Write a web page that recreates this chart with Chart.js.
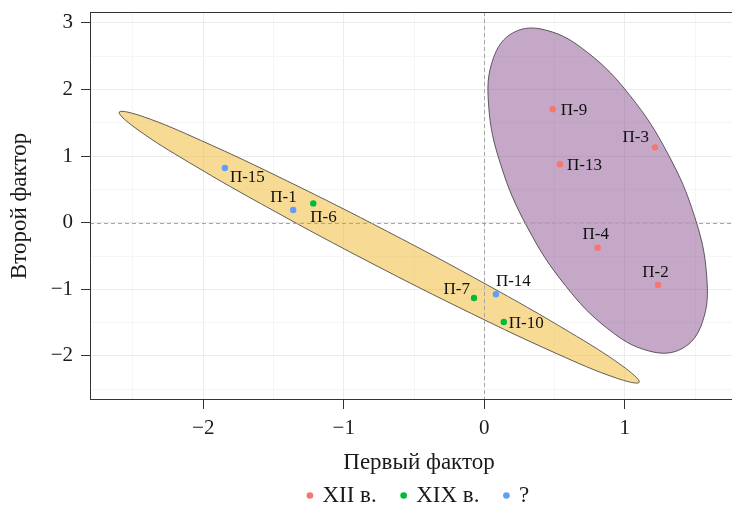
<!DOCTYPE html>
<html><head><meta charset="utf-8">
<style>html,body{margin:0;padding:0;overflow:hidden;background:#fff}canvas{display:block}</style>
<script src="https://cdn.jsdelivr.net/npm/chart.js@4.4.1/dist/chart.umd.min.js"></script>
</head><body>
<canvas id="c" width="760" height="505"></canvas>
<script>
// ---------- data ----------
const seriesNames = ['XII в.', 'XIX в.', '?'];
const xiiLabels = ['П-9', 'П-3', 'П-13', 'П-4', 'П-2'];
const xiiX = [0.487, 1.215, 0.539, 0.807, 1.236];
const xiiY = [1.703, 1.132, 0.877, -0.375, -0.935];
const xixLabels = ['П-6', 'П-7', 'П-10'];
const xixX = [-1.217, -0.073, 0.139];
const xixY = [0.290, -1.131, -1.491];
const qLabels = ['П-15', 'П-1', 'П-14'];
const qX = [-1.846, -1.360, 0.083];
const qY = [0.821, 0.191, -1.075];

// ellipse outlines
const yellowEllipseX = [1.103, 0.940, 0.520, -0.093, -0.806, -1.509, -2.097, -2.479, -2.598, -2.435, -2.014, -1.402, -0.689, 0.014, 0.602, 0.984];
const yellowEllipseY = [-2.396, -2.333, -1.970, -1.362, -0.604, 0.191, 0.900, 1.416, 1.661, 1.598, 1.233, 0.626, -0.132, -0.926, -1.636, -2.152];
const purpleEllipseX = [1.406, 1.170, 0.879, 0.577, 0.309, 0.117, 0.031, 0.063, 0.208, 0.444, 0.735, 1.038, 1.305, 1.497, 1.583, 1.552];
const purpleEllipseY = [-1.892, -1.925, -1.592, -0.943, -0.078, 0.872, 1.764, 2.461, 2.856, 2.889, 2.556, 1.907, 1.042, 0.092, -0.800, -1.497];

const xMajorTicks = [-2, -1, 0, 1];
const xMinorTicks = [-2.5, -1.5, -0.5, 0.5, 1.5];
const yMajorTicks = [-2, -1, 0, 1, 2, 3];
const yMinorTicks = [-2.5, -1.5, -0.5, 0.5, 1.5, 2.5];
const xRange = [-2.806, 1.877];
const yRange = [-2.662, 3.164];
const xTitle = 'Первый фактор';
const yTitle = 'Второй фактор';

// ---------- styles ----------
const seriesColors = ['#F8766D', '#00BA38', '#619CFF'];
const pointLabelStyle = {
  'П-9':  {align: 'left',   dx: 8,    dy: 1},
  'П-3':  {align: 'right',  dx: -6,   dy: -10},
  'П-13': {align: 'left',   dx: 7,    dy: 1},
  'П-4':  {align: 'center', dx: -2,   dy: -13},
  'П-2':  {align: 'center', dx: -2.5, dy: -12.5},
  'П-14': {align: 'left',   dx: 0,    dy: -13},
  'П-10': {align: 'left',   dx: 5,    dy: 2},
  'П-7':  {align: 'right',  dx: -4,   dy: -9},
  'П-15': {align: 'left',   dx: 5,    dy: 9},
  'П-1':  {align: 'right',  dx: 3.5,  dy: -12.5},
  'П-6':  {align: 'left',   dx: -3,   dy: 14}
};
const FONT = "'Liberation Serif', 'Times New Roman', serif";
const TEXT = '#1a1a1a';

const toPts = (xs, ys) => xs.map((x, i) => ({x: x, y: ys[i]}));
const seriesLabels = [xiiLabels, xixLabels, qLabels];

Chart.defaults.font.family = FONT;
Chart.defaults.color = TEXT;

const closeLoop = {
  id: 'closeLoop',
  afterDatasetUpdate(chart, args) {
    const ds = chart.data.datasets[args.index];
    if (!ds.closedShape) return;
    const line = args.meta.dataset;
    if (!line) return;
    line._loop = true; line._fullLoop = true;
    line._pointsUpdated = false;
    delete line._segments; delete line._path;
  }
};

const decor = {
  id: 'decor',
  afterDatasetsDraw(chart) {
    const {ctx, chartArea: a, scales: {x, y}} = chart;
    ctx.save();
    // zero reference lines
    ctx.strokeStyle = '#a6a6a6';
    ctx.lineWidth = 1;
    ctx.setLineDash([4, 3]);
    const x0 = Math.round(x.getPixelForValue(0)) + 0.5;
    const y0 = Math.round(y.getPixelForValue(0)) + 0.5;
    ctx.beginPath();
    ctx.moveTo(x0, a.top); ctx.lineTo(x0, a.bottom);
    ctx.moveTo(a.left, y0); ctx.lineTo(a.right, y0);
    ctx.stroke();
    ctx.setLineDash([]);
    // point labels
    ctx.font = '17px ' + FONT;
    ctx.fillStyle = '#111';
    ctx.textBaseline = 'middle';
    for (let d = 0; d < 3; d++) {
      const meta = chart.getDatasetMeta(d);
      meta.data.forEach((el, i) => {
        const name = seriesLabels[d][i];
        const st = pointLabelStyle[name];
        ctx.textAlign = st.align;
        ctx.fillText(name, el.x + st.dx, el.y + st.dy);
      });
    }
    // panel border
    ctx.strokeStyle = '#333';
    ctx.lineWidth = 1;
    ctx.strokeRect(a.left + 0.5, a.top + 0.5, a.right - a.left, a.bottom - a.top - 1);
    ctx.restore();
  }
};

const fmt = v => (v < 0 ? '\u2212' + Math.abs(v) : String(v));
const isMajor = (v, majors) => majors.includes(v);

function makeScale(range, majors, minors, axisTitle, isX) {
  return {
    type: 'linear',
    min: range[0], max: range[1],
    afterBuildTicks: s => { s.ticks = majors.concat(minors).sort((p, q) => p - q).map(v => ({value: v})); },
    afterFit: s => {
      if (isX) s.height = 58; else s.width = 90;
      s.paddingTop = 0; s.paddingBottom = 0; s.paddingLeft = 0; s.paddingRight = 0;
    },
    border: {display: false},
    grid: {
      color: c => (c.tick && isMajor(c.tick.value, majors)) ? '#ebebeb' : '#f5f5f5',
      lineWidth: 1,
      tickLength: 9,
      tickWidth: 1,
      tickColor: c => (c.tick && isMajor(c.tick.value, majors)) ? '#333' : 'rgba(0,0,0,0)'
    },
    ticks: {
      autoSkip: false,
      maxRotation: 0,
      padding: isX ? 7 : 8,
      font: {size: 21},
      color: TEXT,
      callback: v => isMajor(v, majors) ? fmt(v) : ''
    },
    title: {
      display: true, text: axisTitle, color: TEXT,
      font: {size: 23},
      padding: isX ? {top: 0, bottom: -19} : {top: 6, bottom: 0}
    }
  };
}

new Chart(document.getElementById('c'), {
  type: 'scatter',
  data: {
    datasets: [
      {label: seriesNames[0], data: toPts(xiiX, xiiY), backgroundColor: seriesColors[0], borderWidth: 0, pointRadius: 3.2, pointStyle: 'circle'},
      {label: seriesNames[1], data: toPts(xixX, xixY), backgroundColor: seriesColors[1], borderWidth: 0, pointRadius: 3.2, pointStyle: 'circle'},
      {label: seriesNames[2], data: toPts(qX, qY), backgroundColor: seriesColors[2], borderWidth: 0, pointRadius: 3.2, pointStyle: 'circle'},
      {type: 'line', label: 'e1', closedShape: true, data: toPts(yellowEllipseX, yellowEllipseY),
       backgroundColor: 'rgba(240,190,60,0.55)', borderColor: '#3a3a3a', borderWidth: 0.8,
       pointRadius: 0, tension: 0.4, fill: 'shape'},
      {type: 'line', label: 'e2', closedShape: true, data: toPts(purpleEllipseX, purpleEllipseY),
       backgroundColor: 'rgba(140,80,145,0.5)', borderColor: '#3a3a3a', borderWidth: 0.8,
       pointRadius: 0, tension: 0.4, fill: 'shape'}
    ]
  },
  options: {
    responsive: false,
    animation: false,
    devicePixelRatio: 1,
    layout: {padding: {top: 12, right: 12, left: 0, bottom: 0}},
    scales: {
      x: makeScale(xRange, xMajorTicks, xMinorTicks, xTitle, true),
      y: makeScale(yRange, yMajorTicks, yMinorTicks, yTitle, false)
    },
    plugins: {
      tooltip: {enabled: false},
      legend: {
        position: 'bottom',
        fullSize: false,
        maxHeight: 47,
        labels: {
          filter: item => item.datasetIndex < 3,
          usePointStyle: true,
          boxWidth: 2, boxHeight: 4.7,
          padding: 26,
          font: {size: 23},
          color: TEXT
        }
      }
    }
  },
  plugins: [closeLoop, decor]
});
</script>
</body></html>
